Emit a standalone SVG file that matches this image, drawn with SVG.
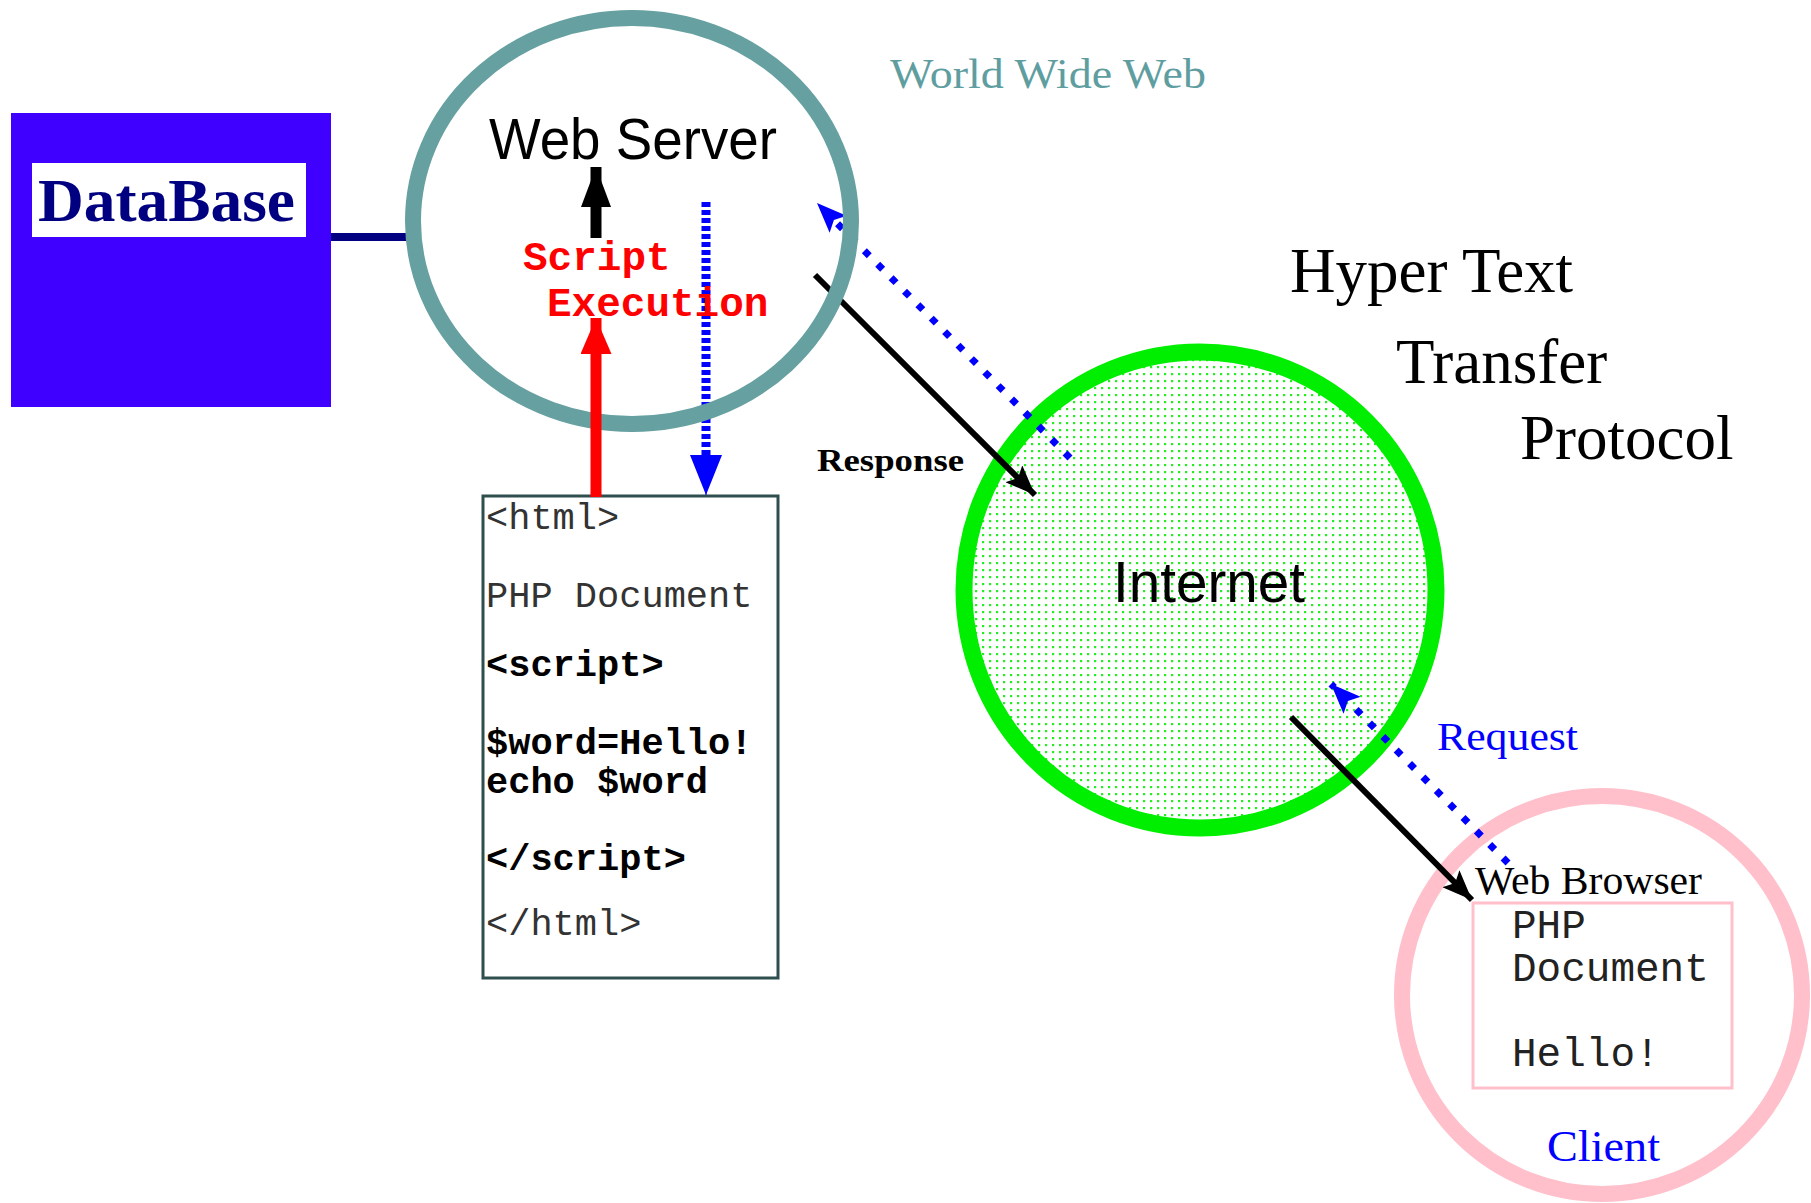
<svg xmlns="http://www.w3.org/2000/svg" width="1811" height="1203" viewBox="0 0 1811 1203">
  <style>
    .serif { font-family: "Liberation Serif", "Times New Roman", serif; }
    .sans { font-family: "Liberation Sans", Arial, sans-serif; }
    .mono { font-family: "Liberation Mono", "Courier New", monospace; }
    .big { font-size: 63px; fill: #000; }
    .code { font-size: 37px; fill: #333; }
    .codeb { font-size: 37px; fill: #000; font-weight: bold; }
    .blk { stroke: #000; fill: none; }
    .dotdiag { stroke: #0000ff; stroke-width: 7; stroke-dasharray: 7 12; fill: none; }
  </style>
  <defs>
    <pattern id="dots" width="7" height="7" patternUnits="userSpaceOnUse">
      <rect width="7" height="7" fill="#ffffff"/>
      <rect x="2" y="2" width="2.2" height="2.2" fill="#22ee22"/>
    </pattern>
    <marker id="hUpBlack" markerUnits="userSpaceOnUse" viewBox="0 0 40 30" refX="40" refY="15" markerWidth="40" markerHeight="30" orient="auto">
      <path d="M0,0 L40,15 L0,30 z" fill="#000"/>
    </marker>
    <marker id="hRed" markerUnits="userSpaceOnUse" viewBox="0 0 36 31" refX="36" refY="15.5" markerWidth="36" markerHeight="31" orient="auto">
      <path d="M0,0 L36,15.5 L0,31 z" fill="#ff0000"/>
    </marker>
    <marker id="hBlueV" markerUnits="userSpaceOnUse" viewBox="0 0 40 32" refX="40" refY="16" markerWidth="40" markerHeight="32" orient="auto">
      <path d="M0,0 L40,16 L0,32 z" fill="#0000ff"/>
    </marker>
    <marker id="hBlueD" markerUnits="userSpaceOnUse" viewBox="0 0 30 24" refX="30" refY="12" markerWidth="30" markerHeight="24" orient="auto">
      <path d="M0,0 L30,12 L0,24 L6,12 z" fill="#0000ff"/>
    </marker>
    <marker id="hBlackD" markerUnits="userSpaceOnUse" viewBox="0 0 30 24" refX="30" refY="12" markerWidth="30" markerHeight="24" orient="auto">
      <path d="M0,0 L30,12 L0,24 L6,12 z" fill="#000"/>
    </marker>
  </defs>

  <rect width="1811" height="1203" fill="#ffffff"/>

  <g id="database">
    <rect x="11" y="113" width="320" height="294" fill="#3f00ff"/>
    <rect x="32" y="163" width="274" height="74" fill="#ffffff"/>
    <text x="38" y="221" class="serif" font-size="62" font-weight="bold" fill="#000080" textLength="257" lengthAdjust="spacingAndGlyphs">DataBase</text>
  </g>

  <g id="internet">
    <ellipse cx="1200" cy="590" rx="236" ry="238" fill="url(#dots)" stroke="#00ee00" stroke-width="17"/>
    <text x="1113" y="602" class="sans" font-size="57" fill="#000" textLength="192" lengthAdjust="spacingAndGlyphs">Internet</text>
  </g>

  <g id="client">
    <ellipse cx="1602" cy="995" rx="200" ry="199" fill="none" stroke="#ffc0cb" stroke-width="16"/>
    <text x="1475" y="894" class="serif" font-size="40" fill="#000" textLength="227" lengthAdjust="spacingAndGlyphs">Web Browser</text>
    <rect x="1473" y="903" width="259" height="185" fill="none" stroke="#ffc0cb" stroke-width="3"/>
    <text class="mono" font-size="41" fill="#222">
      <tspan x="1512" y="938">PHP</tspan>
      <tspan x="1512" y="981">Document</tspan>
      <tspan x="1512" y="1066">Hello!</tspan>
    </text>
    <text x="1547" y="1161" class="serif" font-size="45" fill="#0000ff" textLength="113" lengthAdjust="spacingAndGlyphs">Client</text>
  </g>

  <g id="php-document">
    <rect x="483" y="496" width="295" height="482" fill="#ffffff" stroke="#2f4f4f" stroke-width="3"/>
    <text x="486" y="529" class="mono code">&lt;html&gt;</text>
    <text x="486" y="607" class="mono code">PHP Document</text>
    <text x="486" y="676" class="mono codeb">&lt;script&gt;</text>
    <text x="486" y="754" class="mono codeb">$word=Hello!</text>
    <text x="486" y="793" class="mono codeb">echo $word</text>
    <text x="486" y="870" class="mono codeb">&lt;/script&gt;</text>
    <text x="486" y="935" class="mono code">&lt;/html&gt;</text>
  </g>

  <g id="labels">
    <text x="890" y="88" class="serif" font-size="42" fill="#5f9ea0" textLength="316" lengthAdjust="spacingAndGlyphs">World  Wide  Web</text>
    <text x="1290" y="292" class="serif big">Hyper Text</text>
    <text x="1396" y="383" class="serif big">Transfer</text>
    <text x="1520" y="459" class="serif big">Protocol</text>
    <text x="817" y="471" class="serif" font-size="32" font-weight="bold" fill="#000" textLength="147" lengthAdjust="spacingAndGlyphs">Response</text>
    <text x="1437" y="750" class="serif" font-size="40" fill="#0000ff" textLength="141" lengthAdjust="spacingAndGlyphs">Request</text>
  </g>

  <g id="connectors">
    <line x1="331" y1="237" x2="408" y2="237" stroke="#000080" stroke-width="8"/>
    <line x1="1070" y1="458" x2="817" y2="203" class="dotdiag" marker-end="url(#hBlueD)"/>
    <line x1="815" y1="275" x2="1035" y2="495" class="blk" stroke-width="6" marker-end="url(#hBlackD)"/>
    <line x1="1508" y1="863" x2="1331" y2="684" class="dotdiag" marker-end="url(#hBlueD)"/>
    <line x1="1291" y1="717" x2="1472" y2="900" class="blk" stroke-width="6" marker-end="url(#hBlackD)"/>
    <line x1="706" y1="202" x2="706" y2="462" stroke="#0000ff" stroke-width="9" stroke-dasharray="5 3"/>
    <line x1="706" y1="455" x2="706" y2="495" stroke="#0000ff" stroke-width="1" marker-end="url(#hBlueV)"/>
  </g>

  <g id="web-server">
    <ellipse cx="632" cy="221" rx="219" ry="203" fill="none" stroke="#66a0a0" stroke-width="16"/>
    <text x="489" y="159" class="sans" font-size="57" fill="#000" textLength="288" lengthAdjust="spacingAndGlyphs">Web Server</text>
    <line x1="596" y1="238" x2="596" y2="167" stroke="#000" stroke-width="11" marker-end="url(#hUpBlack)"/>
    <line x1="596" y1="497" x2="596" y2="318" stroke="#ff0000" stroke-width="11" marker-end="url(#hRed)"/>
    <text class="mono" font-size="41" font-weight="bold" fill="#ff0000">
      <tspan x="523" y="270">Script</tspan>
      <tspan x="547" y="316">Execution</tspan>
    </text>
  </g>
</svg>
